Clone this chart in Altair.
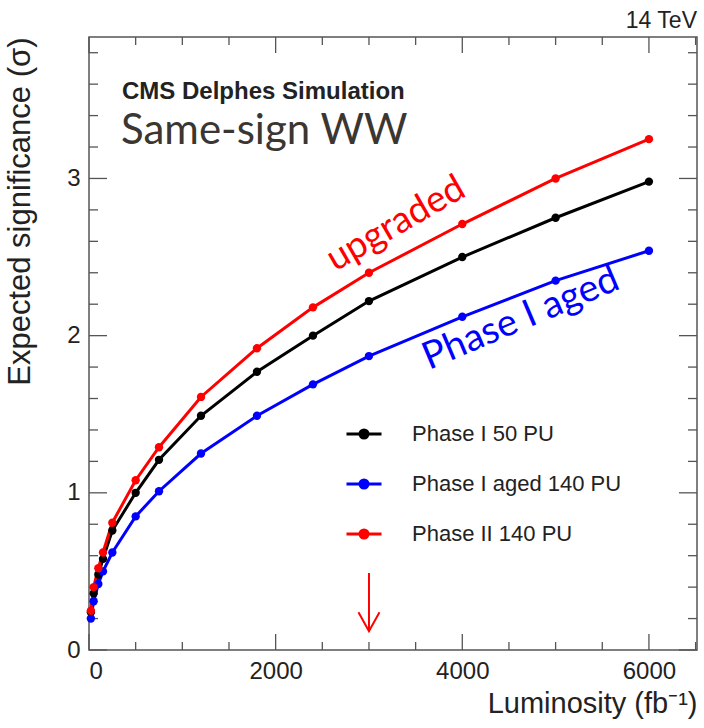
import altair as alt
import pandas as pd

# Integrated luminosity (fb^-1) and expected significance for each detector scenario
lumi = [20, 50, 100, 150, 250, 500, 750, 1200, 1800, 2400, 3000, 4000, 5000, 6000]
sig_phase1_50pu = [0.24, 0.36, 0.48, 0.58, 0.76, 1.00, 1.21, 1.49, 1.77, 2.00, 2.22, 2.50, 2.75, 2.98]
sig_phase1_aged_140pu = [0.20, 0.31, 0.42, 0.50, 0.62, 0.85, 1.01, 1.25, 1.49, 1.69, 1.87, 2.12, 2.35, 2.54]
sig_phase2_140pu = [0.25, 0.40, 0.52, 0.62, 0.81, 1.08, 1.29, 1.61, 1.92, 2.18, 2.40, 2.71, 3.00, 3.25]

series_names = ["Phase I 50 PU", "Phase I aged 140 PU", "Phase II 140 PU"]
series_colors = ["#000000", "#0000ff", "#ff0000"]

# Axis tick values
x_major = [0, 2000, 4000, 6000]
x_minor = [500, 1000, 1500, 2500, 3000, 3500, 4500, 5000, 5500, 6500]
y_major = [0, 1, 2, 3]
y_minor = [0.2, 0.4, 0.6, 0.8, 1.2, 1.4, 1.6, 1.8, 2.2, 2.4, 2.6, 2.8, 3.2, 3.4, 3.6, 3.8]

# Reference luminosity marked by the arrow
target_lumi = 3000
arrow_top, arrow_tip = 0.49, 0.12

X_MAX, Y_MAX = 6515, 3.9
W, H = 608, 613
FONT = "Liberation Sans"
INK = "#222222"

rows = []
for name, vals in zip(series_names, [sig_phase1_50pu, sig_phase1_aged_140pu, sig_phase2_140pu]):
    for l, s in zip(lumi, vals):
        rows.append({"lumi": l, "sig": s, "scenario": name})
df = pd.DataFrame(rows)

xs = alt.Scale(domain=[0, X_MAX], nice=False, zero=False)
ys = alt.Scale(domain=[0, Y_MAX], nice=False, zero=False)

# Legend glyph: a horizontal line with a solid dot (concentric rings) in the middle
dot = ""
for r in [0.23, 0.15, 0.06]:
    dot += f" M{r},0A{r},{r},0,1,0,{-r},0A{r},{r},0,1,0,{r},0"
legend_symbol = "M-1,0L1,0" + dot

color = alt.Color(
    "scenario:N",
    scale=alt.Scale(domain=series_names, range=series_colors),
    legend=alt.Legend(
        title=None, orient="none", legendX=256, legendY=378, padding=0,
        symbolType=legend_symbol, symbolSize=1225, symbolStrokeWidth=3,
        labelFont=FONT, labelFontSize=22, labelColor=INK,
        labelOffset=29, rowPadding=20, labelLimit=400,
    ),
)

x_enc = alt.X(
    "lumi:Q", scale=xs,
    axis=alt.Axis(
        values=x_major, format="d", ticks=False, domain=False, grid=False,
        labelFont=FONT, labelFontSize=24, labelColor=INK, labelPadding=9,
        title="Luminosity (fb⁻¹)", titleFont=FONT, titleFontSize=29,
        titleFontWeight="normal", titleColor=INK, titleAnchor="end",
        titlePadding=6,
    ),
)
y_enc = alt.Y(
    "sig:Q", scale=ys,
    axis=alt.Axis(
        values=y_major, format="d", ticks=False, domain=False, grid=False,
        labelFont=FONT, labelFontSize=24, labelColor=INK, labelPadding=9,
        title="Expected significance (σ)", titleFont=FONT, titleFontSize=31,
        titleFontWeight="normal", titleColor=INK, titleAnchor="end",
        titlePadding=30,
    ),
)

base = alt.Chart(df)
lines = base.mark_line(strokeWidth=3).encode(x=x_enc, y=y_enc, color=color, detail="scenario:N")
points = base.mark_point(filled=True, size=70, opacity=1).encode(
    x="lumi:Q", y="sig:Q", color=alt.Color("scenario:N", legend=None,
                                          scale=alt.Scale(domain=series_names, range=series_colors))
)


def tick_layer(values, field, side, length):
    d = pd.DataFrame({field: values})
    mk = alt.Chart(d).mark_rule(color="#555555", strokeWidth=1.3)
    if side == "bottom":
        return mk.encode(x=alt.X(f"{field}:Q", scale=xs), y=alt.value(H), y2=alt.value(H - length))
    if side == "top":
        return mk.encode(x=alt.X(f"{field}:Q", scale=xs), y=alt.value(0), y2=alt.value(length))
    if side == "left":
        return mk.encode(y=alt.Y(f"{field}:Q", scale=ys), x=alt.value(0), x2=alt.value(length))
    return mk.encode(y=alt.Y(f"{field}:Q", scale=ys), x=alt.value(W), x2=alt.value(W - length))


ticks = [
    tick_layer(x_major, "xt", "bottom", 16), tick_layer(x_minor, "xt", "bottom", 8),
    tick_layer(x_major, "xt", "top", 16), tick_layer(x_minor, "xt", "top", 8),
    tick_layer(y_major, "yt", "left", 18), tick_layer(y_minor, "yt", "left", 9),
    tick_layer(y_major, "yt", "right", 18), tick_layer(y_minor, "yt", "right", 9),
]

# Arrow at the reference luminosity
arrow_shaft = alt.Chart().mark_rule(color="#ff0000", strokeWidth=2).encode(
    x=alt.datum(target_lumi, scale=xs), y=alt.datum(arrow_top, scale=ys), y2=alt.datum(arrow_tip)
)
arrow_head = alt.Chart().mark_point(
    shape="M-1,-1.8L0,0L1,-1.8", filled=False, stroke="#ff0000", strokeWidth=2, size=441, opacity=1
).encode(x=alt.datum(target_lumi, scale=xs), y=alt.datum(arrow_tip, scale=ys))

# Text annotations
energy = alt.Chart().mark_text(
    text="14 TeV", font=FONT, fontSize=23, color=INK, align="right", baseline="alphabetic"
).encode(x=alt.value(W), y=alt.value(-9))
cms = alt.Chart().mark_text(
    text="CMS Delphes Simulation", font=FONT, fontSize=24, fontWeight="bold", color=INK,
    align="left", baseline="alphabetic"
).encode(x=alt.value(33), y=alt.value(62))
process = alt.Chart().mark_text(
    text="Same-sign WW", font="Lato", fontSize=42, color="#3b3631", align="left", baseline="alphabetic"
).encode(x=alt.value(32), y=alt.value(107))
upgraded = alt.Chart().mark_text(
    text="upgraded", font="Lato", fontSize=37, color="#ff0000", align="center", baseline="middle",
    angle=330
).encode(x=alt.value(307), y=alt.value(187))
aged = alt.Chart().mark_text(
    text="Phase I aged", font="Lato", fontSize=38, color="#0000ff", align="center", baseline="middle",
    angle=337
).encode(x=alt.value(432), y=alt.value(282))

chart = alt.layer(
    *ticks, lines, points, arrow_shaft, arrow_head, energy, cms, process, upgraded, aged
).properties(
    width=W, height=H,
    autosize=alt.AutoSizeParams(type="none"),
    padding={"left": 89, "top": 37, "right": 7, "bottom": 78},
    background="white",
).configure_view(stroke="#555555", strokeWidth=1.5)

chart.save("out.html", embed_options={"renderer": "svg", "actions": False})
